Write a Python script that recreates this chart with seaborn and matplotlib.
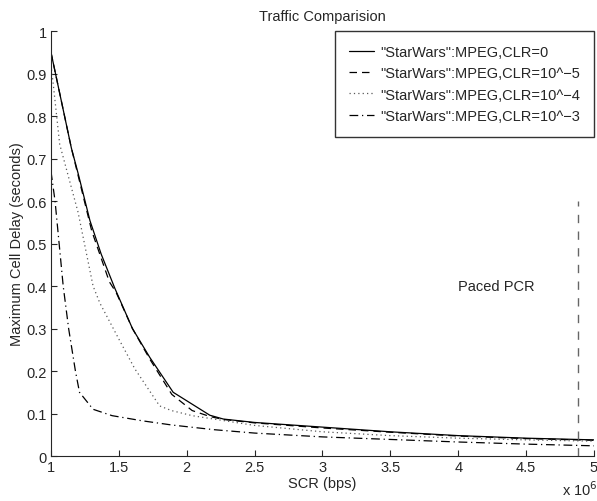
import numpy as np
import pandas as pd
import matplotlib
matplotlib.use('Agg')
import matplotlib.pyplot as plt
import seaborn as sns
from matplotlib.ticker import FuncFormatter

###
#   DATA  (SCR in units of 1e6 bps, delay in seconds)
###
scr_clr0 = [1.0, 1.10, 1.15, 1.20, 1.287, 1.37, 1.47, 1.6, 1.728, 1.9, 2.02, 2.17, 2.27, 2.5, 3.0, 3.5, 4.0, 4.5, 5.0]
delay_clr0 = [0.95, 0.80, 0.725, 0.665, 0.554, 0.475, 0.395, 0.30, 0.232, 0.15, 0.126, 0.096, 0.087, 0.079, 0.068, 0.057, 0.048, 0.042, 0.038]

scr_clr5 = [1.0, 1.10, 1.15, 1.20, 1.30, 1.43, 1.48, 1.6, 1.728, 1.89, 2.04, 2.17, 2.27, 2.5, 3.0, 3.5, 4.0, 4.5, 5.0]
delay_clr5 = [0.95, 0.80, 0.725, 0.66, 0.53, 0.41, 0.385, 0.30, 0.228, 0.145, 0.107, 0.093, 0.086, 0.078, 0.066, 0.056, 0.047, 0.041, 0.037]

scr_clr4 = [1.0, 1.015, 1.064, 1.20, 1.31, 1.36, 1.507, 1.618, 1.80, 1.887, 2.04, 2.5, 3.0, 3.5, 4.0, 4.5, 5.0]
delay_clr4 = [0.92, 0.88, 0.734, 0.573, 0.40, 0.36, 0.271, 0.205, 0.118, 0.107, 0.095, 0.072, 0.057, 0.048, 0.042, 0.038, 0.035]

scr_clr3 = [1.0, 1.03, 1.06, 1.09, 1.13, 1.18, 1.21, 1.31, 1.45, 1.67, 1.89, 2.2, 2.5, 3.0, 3.5, 4.0, 4.5, 5.0]
delay_clr3 = [0.67, 0.60, 0.50, 0.40, 0.30, 0.20, 0.15, 0.11, 0.095, 0.083, 0.073, 0.062, 0.054, 0.045, 0.039, 0.033, 0.028, 0.024]

labels = ['"StarWars":MPEG,CLR=0', '"StarWars":MPEG,CLR=10^\u22125',
          '"StarWars":MPEG,CLR=10^\u22124', '"StarWars":MPEG,CLR=10^\u22123']

paced_pcr = 4.88e6
paced_top = 0.6

###
#   STYLE
###
FS = 10.5
sns.set_style('ticks')
plt.rcParams['font.family'] = ['Liberation Sans', 'DejaVu Sans']
plt.rcParams['font.size'] = FS

fig = plt.figure(figsize=(5.97, 5.02), dpi=100)
ax = fig.add_axes([0.0854, 0.0896, 0.9096, 0.8464])

series = [(scr_clr0, delay_clr0, '-', 'black'),
          (scr_clr5, delay_clr5, (0, (6, 4)), 'black'),
          (scr_clr4, delay_clr4, (0, (1, 2.5)), '0.35'),
          (scr_clr3, delay_clr3, (0, (7, 3, 1, 3)), 'black')]

for (xs, ys, ls, col), lab in zip(series, labels):
    df = pd.DataFrame({'scr': np.array(xs) * 1e6, 'delay': ys})
    sns.lineplot(data=df, x='scr', y='delay', ax=ax, color=col, linestyle=ls,
                 linewidth=0.9, label=lab, sort=False, estimator=None)

ax.vlines(paced_pcr, 0, paced_top, colors='0.4', linestyles=(0, (6, 6)), linewidth=1)
ax.text(4.0e6, 0.40, 'Paced PCR', fontsize=FS, ha='left', va='center')

ax.set_xlim(1e6, 5e6)
ax.set_ylim(0, 1)
ax.set_xticks(np.arange(1e6, 5.01e6, 0.5e6))
ax.set_yticks(np.arange(0, 1.01, 0.1))
ax.xaxis.set_major_formatter(FuncFormatter(lambda v, p: '%g' % (v / 1e6)))
ax.yaxis.set_major_formatter(FuncFormatter(lambda v, p: '%g' % round(v, 2)))
ax.tick_params(direction='in', length=4, width=0.8, labelsize=FS, pad=3)
for s in ['top', 'right']:
    ax.spines[s].set_visible(False)
for s in ['left', 'bottom']:
    ax.spines[s].set_linewidth(0.8)

ax.set_xlabel('SCR (bps)', fontsize=FS, labelpad=1)
ax.set_ylabel('Maximum Cell Delay (seconds)', fontsize=FS, labelpad=2)
ax.set_title('Traffic Comparision', fontsize=FS, pad=8)
fig.text(0.941, 0.006, 'x 10$^{6}$', fontsize=FS, ha='left', va='bottom')

leg = ax.legend(loc='upper right', borderaxespad=0, frameon=True, fancybox=False,
                edgecolor='black', handlelength=1.7, labelspacing=0.5,
                borderpad=0.95, fontsize=FS, handletextpad=0.45)
leg.get_frame().set_linewidth(1.0)

fig.savefig('out.png', dpi=100)
